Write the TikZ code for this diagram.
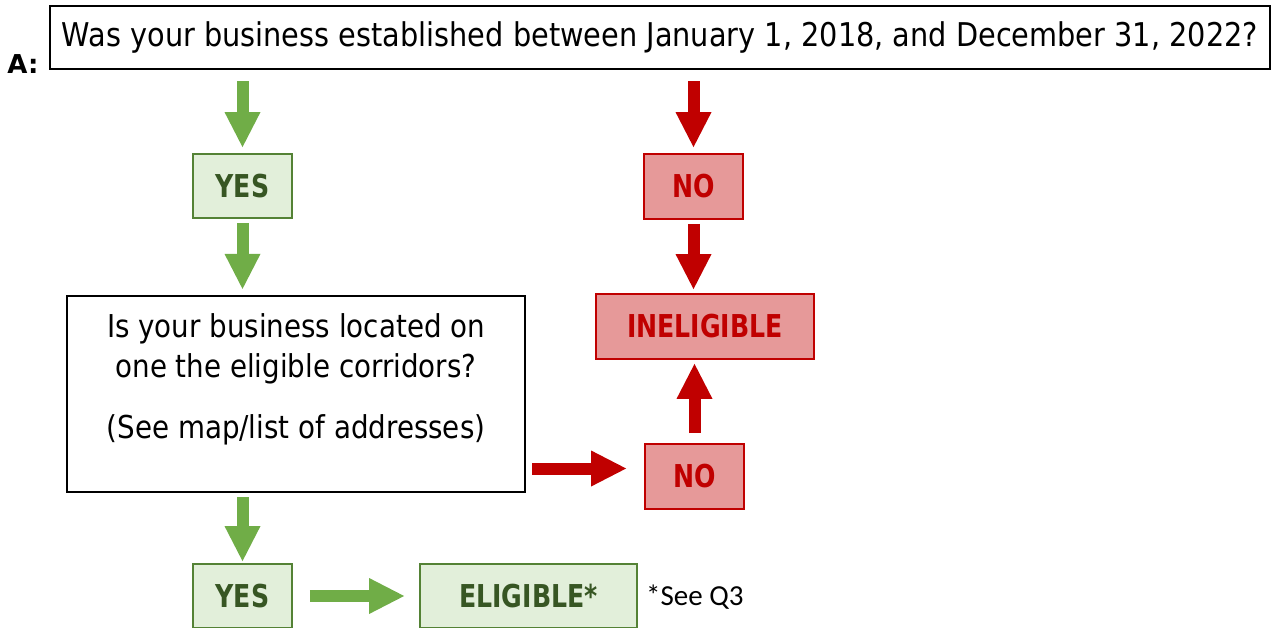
\documentclass[tikz,border=0pt]{standalone}
\usepackage{fontspec}
\setmainfont{DejaVu Sans}[FakeStretch=0.88]
\newfontfamily\labfont{DejaVu Sans}[FakeStretch=0.8]
\newfontfamily\afont{DejaVu Sans}
\newfontfamily\notefont{Carlito}
\usetikzlibrary{arrows.meta,calc}
\definecolor{garrow}{HTML}{70AD47}
\definecolor{gfill}{HTML}{E2EFDA}
\definecolor{gline}{HTML}{548235}
\definecolor{gtext}{HTML}{375623}
\definecolor{rarrow}{HTML}{C00000}
\definecolor{rfill}{HTML}{E69999}
\definecolor{rline}{HTML}{C00000}
\begin{document}
\begin{tikzpicture}[x=1pt,y=-1pt,
  qbox/.style={draw=black, line width=2.2pt, fill=white, inner sep=0pt},
  qtext/.style={inner sep=0pt, anchor=base, font=\fontsize{31.5}{40}\selectfont},
  gbox/.style={draw=gline, line width=1.8pt, fill=gfill, inner sep=0pt, text=gtext,
    font=\labfont\bfseries\fontsize{31.5}{36}\selectfont},
  rbox/.style={draw=rline, line width=1.8pt, fill=rfill, inner sep=0pt, text=rarrow,
    font=\labfont\bfseries\fontsize{31.5}{36}\selectfont},
  blk/.style={line width=12pt, -{Triangle[length=35pt 0 0, width=36pt 0 0, line width=0pt 0 0]}},
  garr/.style={blk, draw=garrow},
  rarr/.style={blk, draw=rarrow}]
\useasboundingbox (0,0) rectangle (1274,628);

\node[qbox, minimum width=1220pt, minimum height=63pt,
  font=\fontsize{32.7}{38}\selectfont] (top) at (660,37.5)
  {Was your business established between January 1, 2018, and December 31, 2022?};
\node[font=\afont\bfseries\fontsize{26}{30}\selectfont, inner sep=0pt, anchor=base] (A) at (23,74) {A:};

\node[gbox, minimum width=99pt, minimum height=64pt] (yes1) at (242.5,186) {YES};
\node[rbox, minimum width=99pt, minimum height=65pt] (no1) at (693.5,186.5) {NO};

\node[qbox, minimum width=458pt, minimum height=196pt] (q) at (296,394) {};
\node[qtext] (qt1) at (296,337) {Is your business located on};
\node[qtext] (qt2) at (296,377) {one the eligible corridors?};
\node[qtext] (qt3) at (296,438) {(See map/list of addresses)};

\node[rbox, minimum width=218pt, minimum height=65pt] (inel) at (705,326.5) {INELIGIBLE};
\node[rbox, minimum width=99pt, minimum height=65pt] (no2) at (694.5,476.5) {NO};

\node[gbox, minimum width=99pt, minimum height=64pt] (yes2) at (242.5,596) {YES};
\node[gbox, minimum width=217pt, minimum height=64pt] (elig) at (528.5,596) {ELIGIBLE*};
\node[anchor=base west, inner sep=0pt, font=\notefont\fontsize{29}{34}\selectfont] (note) at (646,605) {*See Q3};

\draw[garr, shorten <=11pt, shorten >=6pt] (top.south -| yes1.north) -- (yes1.north);
\draw[garr, shorten <=4pt, shorten >=6pt] (yes1.south) -- (yes1.south |- q.north);
\draw[garr, shorten <=4pt, shorten >=2pt] (q.south -| yes2.north) -- (yes2.north);
\draw[garr, shorten <=17pt, shorten >=15pt] (yes2.east) -- (elig.west);

\draw[rarr, shorten <=11pt, shorten >=6pt] (top.south -| no1.north) -- (no1.north);
\draw[rarr, shorten <=4pt, shorten >=4pt] (no1.south) -- (no1.south |- inel.north);
\draw[rarr, shorten <=6pt, shorten >=18pt] ($(q.east |- no2.west)+(0,-8)$) -- ($(no2.west)+(0,-8)$);
\draw[rarr, shorten <=10pt, shorten >=4pt] (no2.north) -- (no2.north |- inel.south);
\end{tikzpicture}
\end{document}
